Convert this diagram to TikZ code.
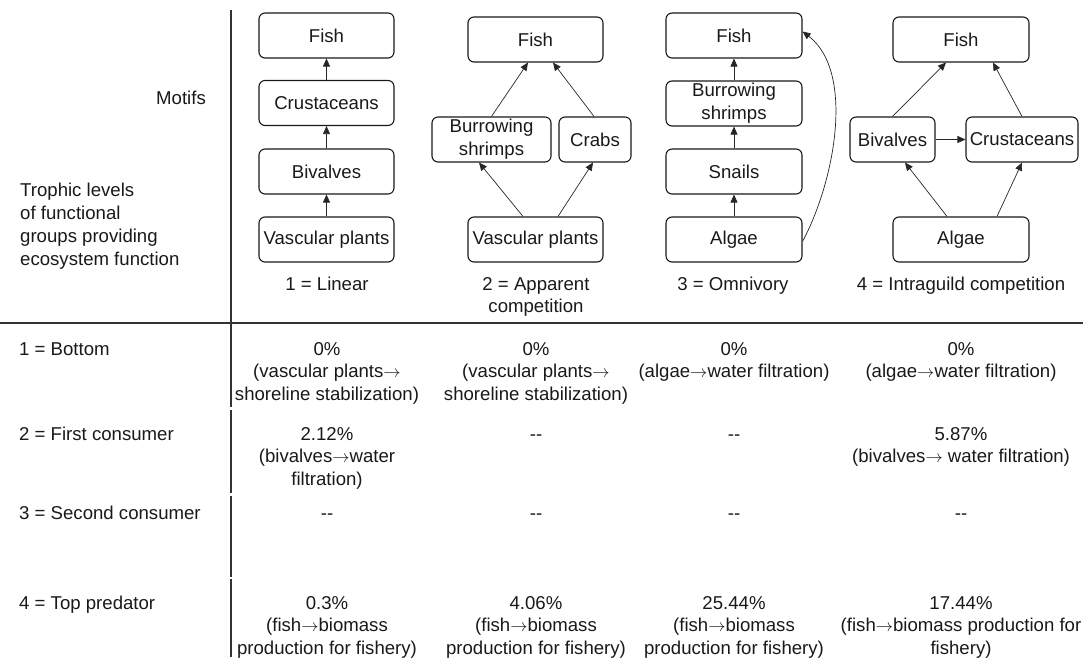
\documentclass[tikz,border=0pt]{standalone}
\usepackage{fontspec}
\setmainfont{Liberation Sans}
\usetikzlibrary{arrows.meta}
\begin{document}
\begin{tikzpicture}[x=1pt,y=-1pt,
  every node/.style={font=\fontsize{18.6}{22.7}\selectfont, inner sep=0pt, text=black!90},
  box/.style={draw=black!90, line width=1.1pt, rounded corners=6pt, minimum height=45pt, align=center},
  arr/.style={line width=0.7pt, draw=black!85, -{Triangle[length=8pt,width=7pt]}},
  txt/.style={anchor=base, align=center},
  rowlab/.style={anchor=base west},
  sep/.style={line width=1.8pt, draw=black!80}]
\useasboundingbox (0,0) rectangle (1083,660);

% separators
\draw[sep] (231,10) -- (231,407);
\draw[sep] (231,410) -- (231,493);
\draw[sep] (231,496) -- (231,577);
\draw[sep] (231,579) -- (231,657);
\draw[line width=1.5pt, draw=black!80] (0,323) -- (1083,323);

% left labels (base anchor = last line baseline)
\node[anchor=base east] (motifs) at (206,105) {Motifs};
\node[anchor=base west, align=left] (troph) at (20,265.1) {Trophic levels\\of functional\\groups providing\\ecosystem function};
\node[rowlab] (r1) at (19,355) {1 = Bottom};
\node[rowlab] (r2) at (19,440) {2 = First consumer};
\node[rowlab] (r3) at (19,519) {3 = Second consumer};
\node[rowlab] (r4) at (19,609) {4 = Top predator};

% motif 1
\node[box, minimum width=135pt] (f1) at (326.5,35.5) {Fish};
\node[box, minimum width=135pt] (c1) at (326.5,103) {Crustaceans};
\node[box, minimum width=135pt] (b1) at (326.5,171.5) {Bivalves};
\node[box, minimum width=135pt] (v1) at (326.5,239.5) {Vascular plants};
\draw[arr] (v1.north) -- (b1.south);
\draw[arr] (b1.north) -- (c1.south);
\draw[arr] (c1.north) -- (f1.south);

% motif 2
\node[box, minimum width=135pt] (f2) at (535.5,39.5) {Fish};
\node[box, minimum width=119pt] (s2) at (491.5,139.5) {Burrowing\\shrimps};
\node[box, minimum width=72pt] (k2) at (595,139.5) {Crabs};
\node[box, minimum width=135pt] (v2) at (535.5,239.5) {Vascular plants};
\draw[arr] ([xshift=-12.5pt]v2.north) -- ([xshift=-12.5pt]s2.south);
\draw[arr] ([xshift=22.5pt]v2.north) -- ([xshift=-2pt]k2.south);
\draw[arr] (s2.north) -- ([xshift=-7.5pt]f2.south);
\draw[arr] ([xshift=-1pt]k2.north) -- ([xshift=17.5pt]f2.south);

% motif 3
\node[box, minimum width=136pt] (f3) at (734,35.5) {Fish};
\node[box, minimum width=136pt] (s3) at (734,103.5) {Burrowing\\shrimps};
\node[box, minimum width=136pt] (n3) at (734,171.5) {Snails};
\node[box, minimum width=136pt] (a3) at (734,239.5) {Algae};
\draw[arr] (a3.north) -- (n3.south);
\draw[arr] (n3.north) -- (s3.south);
\draw[arr] (s3.north) -- (f3.south);
\draw[arr] ([yshift=-2pt]a3.east) .. controls +(33,-62) and +(52,40) .. ([yshift=4pt]f3.east);

% motif 4
\node[box, minimum width=136pt] (f4) at (961,39.5) {Fish};
\node[box, minimum width=85pt] (bv4) at (892.5,139.5) {Bivalves};
\node[box, minimum width=112pt] (cr4) at (1022,139.5) {Crustaceans};
\node[box, minimum width=136pt] (al4) at (961,239.5) {Algae};
\draw[arr] ([xshift=-14pt]al4.north) -- ([xshift=12.5pt]bv4.south);
\draw[arr] ([xshift=36pt]al4.north) -- (cr4.south);
\draw[arr] (bv4.north) -- ([xshift=-15pt]f4.south);
\draw[arr] (cr4.north) -- ([xshift=32pt]f4.south);
\draw[arr] (bv4.east) -- (cr4.west);

% motif captions
\node[txt] (m1) at (327,290) {1 = Linear};
\node[txt] (m2) at (536,312.7) {2 = Apparent\\competition};
\node[txt] (m3) at (733,290) {3 = Omnivory};
\node[txt] (m4) at (961,290) {4 = Intraguild competition};

% row 1
\node[txt] (c11) at (327,400.4) {0\%\\(vascular plants$\rightarrow$\\shoreline stabilization)};
\node[txt] (c12) at (536,400.4) {0\%\\(vascular plants$\rightarrow$\\shoreline stabilization)};
\node[txt] (c13) at (734,377.7) {0\%\\(algae$\rightarrow$water filtration)};
\node[txt] (c14) at (961,377.7) {0\%\\(algae$\rightarrow$water filtration)};
% row 2
\node[txt] (c21) at (327,485.4) {2.12\%\\(bivalves$\rightarrow$water\\filtration)};
\node[txt] (c22) at (536,440) {-{}-};
\node[txt] (c23) at (734,440) {-{}-};
\node[txt] (c24) at (961,462.7) {5.87\%\\(bivalves$\rightarrow$ water filtration)};
% row 3
\node[txt] (c31) at (327,519) {-{}-};
\node[txt] (c32) at (536,519) {-{}-};
\node[txt] (c33) at (734,519) {-{}-};
\node[txt] (c34) at (961,519) {-{}-};
% row 4
\node[txt] (c41) at (327,654.4) {0.3\%\\(fish$\rightarrow$biomass\\production for fishery)};
\node[txt] (c42) at (536,654.4) {4.06\%\\(fish$\rightarrow$biomass\\production for fishery)};
\node[txt] (c43) at (734,654.4) {25.44\%\\(fish$\rightarrow$biomass\\production for fishery)};
\node[txt] (c44) at (961,654.4) {17.44\%\\(fish$\rightarrow$biomass production for\\fishery)};
\end{tikzpicture}
\end{document}
